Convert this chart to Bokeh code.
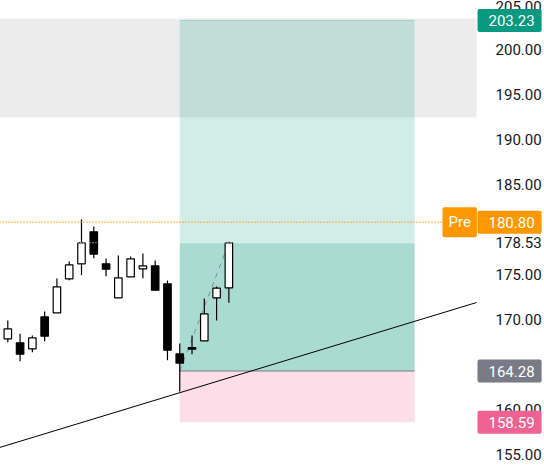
from bokeh.plotting import figure
from bokeh.models import Label, FixedTicker, ColumnDataSource
from bokeh.embed import file_html
from bokeh.resources import INLINE

# Candles
idx   = list(range(19))
opens = [167.85,167.41,166.74,170.30,170.74,174.52,176.19,179.74,176.19,172.41,174.74,175.63,175.96,173.96,166.19,166.89,167.63,172.41,173.52]
closes= [168.96,166.15,167.96,168.15,173.63,176.07,178.52,177.26,175.59,174.63,176.74,175.96,173.26,166.59,165.15,166.70,170.63,173.48,178.52]
highs = [169.89,168.41,168.22,170.89,174.56,176.44,181.11,180.33,176.78,177.11,177.00,177.33,176.56,174.33,167.33,168.22,172.33,173.67,178.63]
lows  = [167.48,165.37,166.37,167.59,170.74,174.37,174.93,176.81,174.81,172.41,174.74,174.59,173.26,165.48,162.00,166.15,167.63,169.89,171.85]

# Levels
target_price = 203.23
entry_price = 164.28
stop_price = 158.59
pre_price = 180.80
last_price = 178.53
band_top, band_bottom = 203.44, 192.44
box_x0, box_x1 = 14.0, 33.12
pane_x = [-0.676, 38.17]
trend_y = [155.78, 171.89]
path_x = [14.0, 18.0]
path_y = [164.28, 178.53]
tick_values = [155, 160, 170, 175, 178.53, 185, 190, 195, 200, 205]

GREEN, GREY, ORANGE, PINK = "#089981", "#787b86", "#ff9800", "#f06292"
FONT = "Roboto"

p = figure(width=545, height=467, output_backend="svg", toolbar_location=None,
           x_range=(-0.676, 43.70), y_range=(153.56, 205.44),
           min_border=0, min_border_left=0, min_border_right=0,
           min_border_top=0, min_border_bottom=0,
           x_axis_location=None, y_axis_location="right", outline_line_color=None)
p.margin = (0, 0, 0, -1)
p.grid.visible = False

ax = p.yaxis[0]
ax.fixed_location = pane_x[1]
ax.ticker = FixedTicker(ticks=tick_values)
ax.major_label_overrides = {v: f"{v:.2f}" for v in tick_values}
ax.axis_line_color = None
ax.major_tick_line_color = None
ax.minor_tick_line_color = None
ax.major_label_text_font = FONT
ax.major_label_text_font_size = "15px"
ax.major_label_text_color = "#131722"
ax.major_label_standoff = 13

# Zones
p.quad(left=[pane_x[0]], right=[pane_x[1]], top=[band_top], bottom=[band_bottom],
       fill_color="#ececec", line_color=None)
p.quad(left=[box_x0], right=[box_x1], top=[target_price], bottom=[last_price],
       fill_color=GREEN, fill_alpha=0.18, line_color=None)
p.quad(left=[box_x0], right=[box_x1], top=[last_price], bottom=[entry_price],
       fill_color=GREEN, fill_alpha=0.35, line_color=None)
p.quad(left=[box_x0], right=[box_x1], top=[entry_price], bottom=[stop_price],
       fill_color="#fcdde8", line_color=None)
p.line([box_x0, box_x1], [target_price, target_price], line_color=GREEN, line_alpha=0.25, line_width=1)
p.line([box_x0, box_x1], [entry_price, entry_price], line_color=GREY, line_width=1)

# Path of the trade
p.line(path_x, path_y, line_color=GREY, line_alpha=0.8, line_width=1, line_dash=[5, 5])

# Candles
src = ColumnDataSource(dict(
    x=idx, o=opens, c=closes, h=highs, l=lows,
    top=[max(a, b) for a, b in zip(opens, closes)],
    bot=[min(a, b) for a, b in zip(opens, closes)],
    fill=["#ffffff" if c >= o else "#000000" for o, c in zip(opens, closes)],
))
p.segment(x0="x", x1="x", y0="l", y1="h", source=src, line_color="#000000", line_width=1.2)
p.vbar(x="x", width=0.61, top="top", bottom="bot", source=src, fill_color="fill",
       line_color="#000000", line_width=1.2)

# Price lines
p.line(pane_x, [pre_price, pre_price], line_color=ORANGE, line_width=1.5, line_dash=[1, 2])
p.line(pane_x, [last_price, last_price], line_color="#ffffff", line_width=1, line_dash=[1, 2])

# Trend line
p.line(pane_x, trend_y, line_color="#000000", line_width=1)

# Price pills (padding order: left, right, top, bottom)
def pill(text, price, color, x=478, pad=(11, 7, 6, 6)):
    p.add_layout(Label(x=x, y=price, x_units="screen", y_units="data", text=text,
                       text_color="#ffffff", text_font=FONT, text_font_size="15px",
                       text_align="left", text_baseline="middle",
                       background_fill_color=color, padding=pad, border_radius=2))

pill(f"{target_price:.2f}", target_price, GREEN)
pill(f"{pre_price:.2f}", pre_price, ORANGE)
pill(f"{entry_price:.2f}", entry_price, GREY)
pill(f"{stop_price:.2f}", stop_price, PINK)
pill("Pre", pre_price, ORANGE, x=443, pad=(6, 6, 6, 6))

open("out.html", "w").write(file_html(p, INLINE))
